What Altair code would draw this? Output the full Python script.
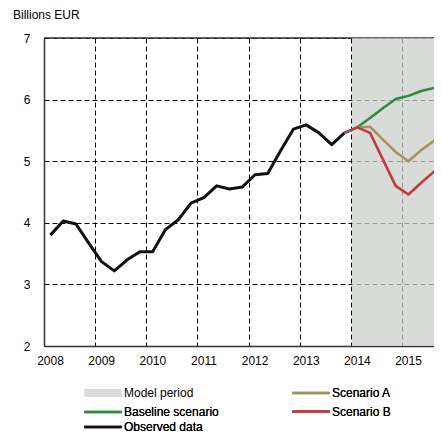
import altair as alt
import pandas as pd

# ---- data ----
x_ticks = [2008, 2009, 2010, 2011, 2012, 2013, 2014, 2015]
y_ticks = [2, 3, 4, 5, 6, 7]

obs_quarters = ["2008Q1", "2008Q2", "2008Q3", "2008Q4",
                "2009Q1", "2009Q2", "2009Q3", "2009Q4",
                "2010Q1", "2010Q2", "2010Q3", "2010Q4",
                "2011Q1", "2011Q2", "2011Q3", "2011Q4",
                "2012Q1", "2012Q2", "2012Q3", "2012Q4",
                "2013Q1", "2013Q2", "2013Q3", "2013Q4"]
obs_values = [3.80, 4.03, 3.98, 3.67,
              3.37, 3.22, 3.40, 3.53,
              3.53, 3.89, 4.05, 4.32,
              4.41, 4.60, 4.55, 4.58,
              4.78, 4.80, 5.17, 5.52,
              5.59, 5.46, 5.27, 5.46]

scen_quarters = ["2013Q4", "2014Q1", "2014Q2", "2014Q3", "2014Q4",
                 "2015Q1", "2015Q2", "2015Q3", "2015Q4"]
baseline_values = [5.46, 5.55, 5.70, 5.86, 6.01, 6.06, 6.14, 6.19, 6.27]
scenario_a_values = [5.46, 5.55, 5.56, 5.35, 5.15, 5.00, 5.18, 5.33, 5.48]
scenario_b_values = [5.46, 5.55, 5.46, 5.03, 4.60, 4.46, 4.65, 4.83, 5.00]

model_period_start = [2014.0]
model_period_end = [2016.0]
shade_low = [2]
shade_high = [7]

# legend groups (as laid out in the reference)
shade_names = ["Model period"]
shade_colors = ["#cbcfcb"]
left_line_names = ["Baseline scenario", "Observed data"]
left_line_colors = ["#2a8c3c", "#111111"]
right_line_names = ["Scenario A", "Scenario B"]
right_line_colors = ["#a8915e", "#c1393c"]

x_domain = [2008, 2015.625]
y_domain = [2, 7]


def qpos(q):
    return int(q[:4]) + (int(q[5]) - 1) / 4 + 0.125


rows = []
for q, v in zip(obs_quarters, obs_values):
    rows.append({"t": qpos(q), "v": v, "series": "Observed data"})
for name, vals in [("Baseline scenario", baseline_values),
                   ("Scenario A", scenario_a_values),
                   ("Scenario B", scenario_b_values)]:
    for q, v in zip(scen_quarters, vals):
        rows.append({"t": qpos(q), "v": v, "series": name})
df = pd.DataFrame(rows)

shade_df = pd.DataFrame({"t": model_period_start, "t2": model_period_end,
                         "v": shade_low, "v2": shade_high,
                         "series": shade_names})
# top frame line of the plot area (top of the value axis)
frame_df = pd.DataFrame({"t": [x_domain[0]], "t2": model_period_end,
                         "v": [y_domain[1]]})

FONT = "Liberation Sans"

x_axis = alt.Axis(values=x_ticks, format="d", title=None, grid=True,
                  gridColor="#000", gridDash=[5, 3], gridWidth=1,
                  ticks=False, domainColor="#333", domainWidth=1.5,
                  labelOffset=6, labelPadding=9, labelFontSize=12,
                  labelFont=FONT, labelColor="#000", labelFlush=False,
                  labelOverlap=False)
y_axis = alt.Axis(values=y_ticks, format="d", title=None, grid=True,
                  gridColor="#000", gridDash=[5, 3], gridWidth=1,
                  ticks=False, domainColor="#333", domainWidth=1.5,
                  labelPadding=14, labelFontSize=12, labelFont=FONT,
                  labelColor="#000", labelFlush=False, labelOverlap=False)

x_scale = alt.Scale(domain=x_domain, nice=False, zero=False)
y_scale = alt.Scale(domain=y_domain, nice=False, zero=False)
x_enc = alt.X("t:Q", scale=x_scale, axis=x_axis)
y_enc = alt.Y("v:Q", scale=y_scale, axis=y_axis)

RECT_PATH = "M-2.5,-0.53H2.5V0.53H-2.5Z"
LINE_PATH = "M-2.5,0H2.5"


def make_legend(x, y, shape, row_pad=9):
    return alt.Legend(
        title=None, orient="none", legendX=x, legendY=y, direction="vertical",
        rowPadding=row_pad, padding=0,
        symbolType=shape, symbolSize=225, symbolStrokeWidth=2.5,
        labelOffset=12, labelFont=FONT, labelFontSize=12, labelColor="#000",
        labelLimit=200,
    )


fill_enc = alt.Fill("series:N",
                    scale=alt.Scale(domain=shade_names, range=shade_colors),
                    legend=make_legend(50, 346, RECT_PATH))
stroke_enc = alt.Stroke("series:N",
                        scale=alt.Scale(domain=left_line_names, range=left_line_colors),
                        legend=make_legend(50, 365, LINE_PATH, 0))
color_enc = alt.Color("series:N",
                      scale=alt.Scale(domain=right_line_names, range=right_line_colors),
                      legend=make_legend(258, 346, LINE_PATH, 3.6))

frame_top = alt.Chart(frame_df).mark_rule(
    color="#333", strokeWidth=1.5
).encode(x=x_enc, x2="t2:Q", y=y_enc)

shade = alt.Chart(shade_df).mark_rect(
    opacity=0.74, xOffset=1, clip=True
).encode(x=x_enc, x2="t2:Q", y=y_enc, y2="v2:Q", fill=fill_enc)


def line_layer(name, width, enc):
    ch = alt.Chart(df).transform_filter(
        alt.datum.series == name
    ).mark_line(strokeWidth=width, clip=True, strokeJoin="round")
    if enc == "stroke":
        return ch.encode(x=x_enc, y=y_enc, stroke=stroke_enc)
    return ch.encode(x=x_enc, y=y_enc, color=color_enc)


chart = alt.layer(
    frame_top,
    shade,
    line_layer("Observed data", 3, "stroke"),
    line_layer("Baseline scenario", 2.5, "stroke"),
    line_layer("Scenario A", 2.5, "color"),
    line_layer("Scenario B", 2.5, "color"),
).resolve_legend(
    fill="independent", stroke="independent", color="independent"
).properties(
    width=390, height=308,
    autosize=alt.AutoSizeParams(type="none"),
    padding={"left": 36, "top": 30, "right": 0, "bottom": 90},
    title=alt.Title("Billions EUR", anchor="start", frame="group", dx=-31,
                    offset=10, fontSize=12, font=FONT, fontWeight="normal",
                    color="#000"),
).configure_view(stroke=None).configure(background="white")

chart.save("out.html", embed_options={"renderer": "svg", "actions": False})
